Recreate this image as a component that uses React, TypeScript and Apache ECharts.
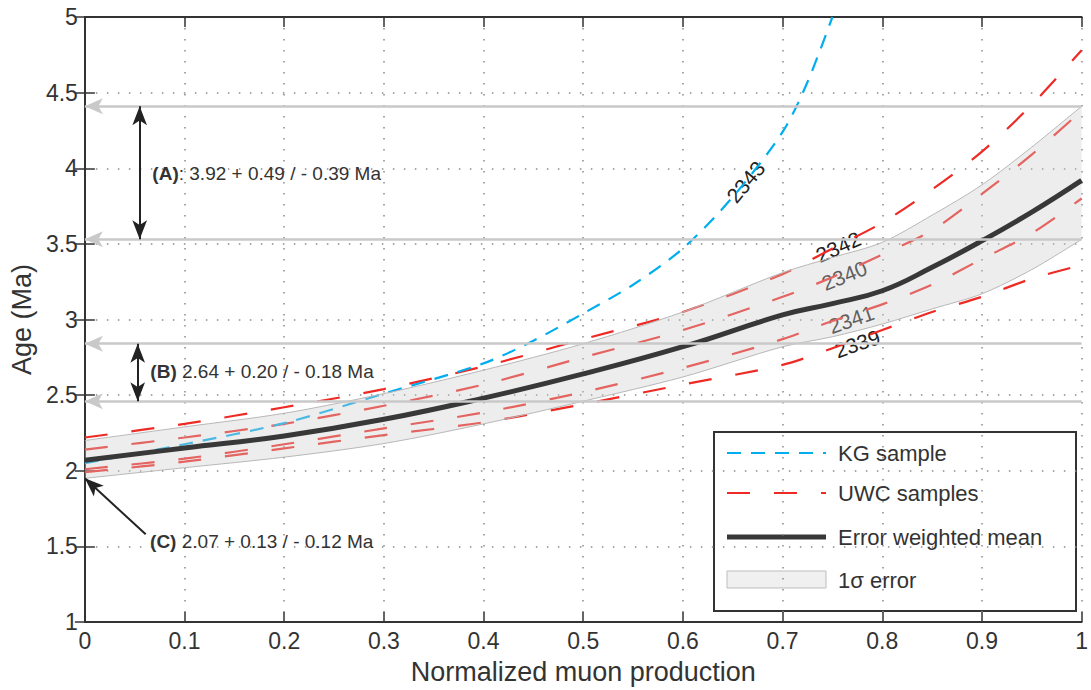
import React, { useEffect, useRef } from "react";
import * as echarts from "echarts";

const FONT = "'Liberation Sans', Arial, Helvetica, sans-serif";
const INK = "#333333";

// Normalized muon production values at which the UWC, mean and error curves are sampled
const xs = [0, 0.1, 0.2, 0.3, 0.4, 0.5, 0.6, 0.7, 0.75, 0.8, 0.85, 0.9, 0.95, 1.0];

// UWC samples (Ma)
const uwc2342 = [2.22, 2.31, 2.42, 2.54, 2.69, 2.87, 3.05, 3.30, 3.47, 3.64, 3.86, 4.11, 4.42, 4.78];
const uwc2340 = [2.14, 2.22, 2.31, 2.43, 2.57, 2.75, 2.93, 3.15, 3.28, 3.43, 3.59, 3.83, 4.09, 4.38];
const uwc2341 = [2.01, 2.08, 2.175, 2.28, 2.385, 2.52, 2.68, 2.87, 2.99, 3.10, 3.23, 3.40, 3.57, 3.80];
const uwc2339 = [1.99, 2.06, 2.148, 2.236, 2.32, 2.44, 2.57, 2.70, 2.81, 2.93, 3.05, 3.15, 3.27, 3.36];

// Error weighted mean and its 1 sigma envelope (Ma)
const meanAge = [2.07, 2.15, 2.23, 2.34, 2.48, 2.64, 2.82, 3.03, 3.105, 3.19, 3.345, 3.52, 3.71, 3.92];
const errLow = [1.95, 2.02, 2.09, 2.18, 2.31, 2.46, 2.62, 2.82, 2.886, 2.97, 3.07, 3.17, 3.33, 3.53];
const errHigh = [2.20, 2.29, 2.38, 2.51, 2.665, 2.84, 3.05, 3.31, 3.41, 3.51, 3.69, 3.89, 4.14, 4.41];

// KG sample 2343
const kgX = [0, 0.1, 0.2, 0.3, 0.4, 0.45, 0.5, 0.55, 0.6, 0.65, 0.7, 0.725, 0.75];
const kg2343 = [2.05, 2.175, 2.315, 2.51, 2.71, 2.86, 3.04, 3.23, 3.47, 3.81, 4.24, 4.57, 5.0];

// Axis ranges: [min, max, interval]
const xRange = [0, 1, 0.1];
const yRange = [1, 5, 0.5];

const estTags = ["A", "B", "C"];
const estAge = [3.92, 2.64, 2.07];
const estPlus = [0.49, 0.2, 0.13];
const estMinus = [0.39, 0.18, 0.12];

// Where the sample names sit along their curves: [x, age, rotation]
const tagAnchors: Record<string, [number, number, number]> = {
  "2343": [0.663, 3.91, 50],
  "2342": [0.756, 3.48, 24],
  "2340": [0.762, 3.29, 22],
  "2341": [0.769, 3.0, 19],
  "2339": [0.775, 2.84, 19],
};

const legendLabels = ["KG sample", "UWC samples", "Error weighted mean", "1σ error"];

const pairs = (x: number[], y: number[]) => x.map((v, i) => [v, y[i]]);
const fmt = (v: number) => v.toFixed(2);

const RED = "#ee2a24";
const CYAN = "#00aeef";
const MEAN = "#383838";
const GUIDE = "#c9c9c9";
const BAND_FILL = "rgba(208,206,204,0.36)";
const BAND_EDGE = "#b8b8b8";
const SMOOTH = 0.3;

function curveTag(name: string, z: number) {
  const [x, y, rot] = tagAnchors[name];
  return {
    silent: true,
    z,
    symbol: "circle",
    symbolSize: 0,
    data: [{ coord: [x, y], value: name }],
    label: {
      show: true,
      position: "inside",
      formatter: name,
      rotate: rot,
      color: "#222",
      fontFamily: FONT,
      fontSize: 21,
      backgroundColor: "#ffffff",
      padding: [0, 2, 0, 2],
    },
  };
}

function uwcSeries(name: string, values: number[], z: number) {
  return {
    type: "line",
    name,
    data: pairs(xs, values),
    symbol: "none",
    smooth: SMOOTH,
    silent: true,
    z,
    lineStyle: { color: RED, width: 2.2, type: [23, 24] },
    markPoint: curveTag(name, z),
  };
}

// 1 sigma envelope: translucent fill between errLow and errHigh plus thin edges
function renderBand(params: any, api: any) {
  if (params.dataIndex !== 0) return null;
  const up = xs.map((x, i) => api.coord([x, errHigh[i]]));
  const lo = xs.map((x, i) => api.coord([x, errLow[i]]));
  const n = xs.length;
  // repeat the corner points so the outline keeps sharp ends at x = 0 and x = 1
  const ring = [up[0], ...up, up[n - 1], lo[n - 1], ...lo.slice().reverse(), lo[0]];
  return {
    type: "group",
    children: [
      {
        type: "polygon",
        shape: { points: ring, smooth: SMOOTH },
        style: { fill: BAND_FILL, stroke: "none" },
      },
      {
        type: "polyline",
        shape: { points: up, smooth: SMOOTH },
        style: { fill: "none", stroke: BAND_EDGE, lineWidth: 1 },
      },
      {
        type: "polyline",
        shape: { points: lo, smooth: SMOOTH },
        style: { fill: "none", stroke: BAND_EDGE, lineWidth: 1 },
      },
    ],
  };
}

function buildOption() {
  const guideLines: any[] = [];
  const sigma = (i: number) => [estAge[i] + estPlus[i], estAge[i] - estMinus[i]];
  const solid = (color: string, width: number) => ({ color, width, type: "solid" });

  // grey guides for (A) and (B), running from the right edge to the age axis
  [0, 1].forEach((i) => {
    sigma(i).forEach((v) => {
      guideLines.push([
        { coord: [1, v], symbol: "none", lineStyle: solid(GUIDE, 2.5) },
        { coord: [0, v], symbol: "arrow", symbolSize: [12, 18], lineStyle: solid(GUIDE, 2.5) },
      ]);
    });
  });

  // black double arrows spanning the (A) and (B) intervals
  const spanX = [0.055, 0.053];
  [0, 1].forEach((i) => {
    const [hi, lo] = sigma(i);
    guideLines.push([
      { coord: [spanX[i], hi], symbol: "arrow", symbolSize: [11, 19], lineStyle: solid("#222", 2) },
      { coord: [spanX[i], lo], symbol: "arrow", symbolSize: [11, 19], lineStyle: solid("#222", 2) },
    ]);
  });

  // (C) pointer to the lower bound at x = 0
  const [, cLow] = sigma(2);
  guideLines.push([
    { coord: [0.061, 1.58], symbol: "none", lineStyle: solid("#222", 2) },
    { coord: [0, cLow], symbol: "arrow", symbolSize: [11, 19], lineStyle: solid("#222", 2) },
  ]);

  const noteAnchors: [number, number][] = [
    [0.0677, 3.967],
    [0.0657, 2.654],
    [0.0654, 1.531],
  ];
  const notes = estTags.map((t, i) => ({
    coord: noteAnchors[i],
    value: t,
    label: {
      formatter: `{b|(${t})}${i === 0 ? ":" : ""} ${fmt(estAge[i])} + ${fmt(estPlus[i])} / - ${fmt(
        estMinus[i]
      )} Ma`,
    },
  }));

  const axisCommon = {
    type: "value",
    axisLine: { show: true, lineStyle: { color: INK, width: 2 } },
    axisTick: { show: true, inside: true, length: 10, lineStyle: { color: INK, width: 1.5 } },
  };
  const dotted = { show: true, lineStyle: { color: "#8a8a8a", width: 1.5, type: [1.5, 9.5] } };
  const tickFont = { color: INK, fontFamily: FONT, fontSize: 23 };
  const nameFont = { color: INK, fontFamily: FONT, fontSize: 27 };

  return {
    animation: false,
    backgroundColor: "#ffffff",
    grid: { left: 82, right: 4, top: 17, bottom: 68, containLabel: false },
    xAxis: [
      {
        ...axisCommon,
        min: xRange[0],
        max: xRange[1],
        interval: xRange[2],
        position: "bottom",
        name: "Normalized muon production",
        nameLocation: "middle",
        nameGap: 36,
        nameTextStyle: nameFont,
        axisLabel: { ...tickFont, margin: 7 },
        splitLine: dotted,
      },
      {
        ...axisCommon,
        min: xRange[0],
        max: xRange[1],
        interval: xRange[2],
        position: "top",
        axisLabel: { show: false },
        splitLine: { show: false },
      },
    ],
    yAxis: [
      {
        ...axisCommon,
        min: yRange[0],
        max: yRange[1],
        interval: yRange[2],
        position: "left",
        name: "Age (Ma)",
        nameLocation: "middle",
        nameGap: 46,
        nameTextStyle: nameFont,
        axisLabel: { ...tickFont, margin: 7 },
        splitLine: dotted,
      },
      {
        ...axisCommon,
        min: yRange[0],
        max: yRange[1],
        interval: yRange[2],
        position: "right",
        axisLabel: { show: false },
        splitLine: { show: false },
      },
    ],
    series: [
      uwcSeries("2342", uwc2342, 2),
      uwcSeries("2340", uwc2340, 2),
      uwcSeries("2341", uwc2341, 2),
      uwcSeries("2339", uwc2339, 2),
      {
        type: "line",
        name: "2343",
        data: pairs(kgX, kg2343),
        symbol: "none",
        smooth: SMOOTH,
        silent: true,
        z: 2,
        lineStyle: { color: CYAN, width: 2.2, type: [14, 10] },
        markPoint: curveTag("2343", 2),
      },
      {
        type: "custom",
        name: "1σ error",
        coordinateSystem: "cartesian2d",
        silent: true,
        z: 3,
        data: xs.map((x, i) => [x, errLow[i], errHigh[i]]),
        encode: { x: 0, y: [1, 2] },
        renderItem: renderBand,
      },
      {
        type: "line",
        name: "Error weighted mean",
        data: pairs(xs, meanAge),
        symbol: "none",
        smooth: 0.45,
        silent: true,
        z: 4,
        lineStyle: { color: MEAN, width: 5 },
        markLine: {
          silent: true,
          z: 6,
          animation: false,
          label: { show: false },
          emphasis: { disabled: true },
          data: guideLines,
        },
        markPoint: {
          silent: true,
          z: 6,
          symbol: "circle",
          symbolSize: 0,
          data: notes,
          label: {
            show: true,
            position: "right",
            distance: 0,
            color: INK,
            fontFamily: FONT,
            fontSize: 19,
            rich: { b: { fontWeight: "bold", fontFamily: FONT, fontSize: 19, color: INK } },
          },
        },
      },
    ],
    graphic: [
      {
        type: "group",
        z: 20,
        children: [
          {
            type: "rect",
            shape: { x: 714, y: 432, width: 362, height: 179 },
            style: { fill: "#ffffff", stroke: INK, lineWidth: 2 },
          },
          {
            type: "line",
            shape: { x1: 727, y1: 453, x2: 826, y2: 453 },
            style: { stroke: CYAN, lineWidth: 2.2, lineDash: [14, 10] },
          },
          {
            type: "line",
            shape: { x1: 727, y1: 493, x2: 826, y2: 493 },
            style: { stroke: RED, lineWidth: 2.2, lineDash: [23, 24] },
          },
          {
            type: "line",
            shape: { x1: 727, y1: 537, x2: 826, y2: 537 },
            style: { stroke: MEAN, lineWidth: 5 },
          },
          {
            type: "rect",
            shape: { x: 727, y: 571, width: 99, height: 17 },
            style: { fill: "#f0f0f0", stroke: "#bdbdbd", lineWidth: 1 },
          },
          ...legendLabels.map((t, i) => ({
            type: "text",
            x: 838,
            y: [453, 493, 537, 580][i],
            style: {
              text: t,
              fill: INK,
              fontFamily: FONT,
              fontSize: 22,
              verticalAlign: "middle",
              textVerticalAlign: "middle",
              align: "left",
            },
          })),
        ],
      },
    ],
  };
}

export default function App() {
  const ref = useRef<HTMLDivElement>(null);
  useEffect(() => {
    if (!ref.current) return;
    const chart = echarts.init(ref.current, null, { renderer: "svg" });
    chart.setOption(buildOption() as any);
    return () => chart.dispose();
  }, []);
  return (
    <div
      ref={ref}
      style={{ position: "absolute", left: 0, top: 0, width: 1091, height: 690, background: "#fff" }}
    />
  );
}
